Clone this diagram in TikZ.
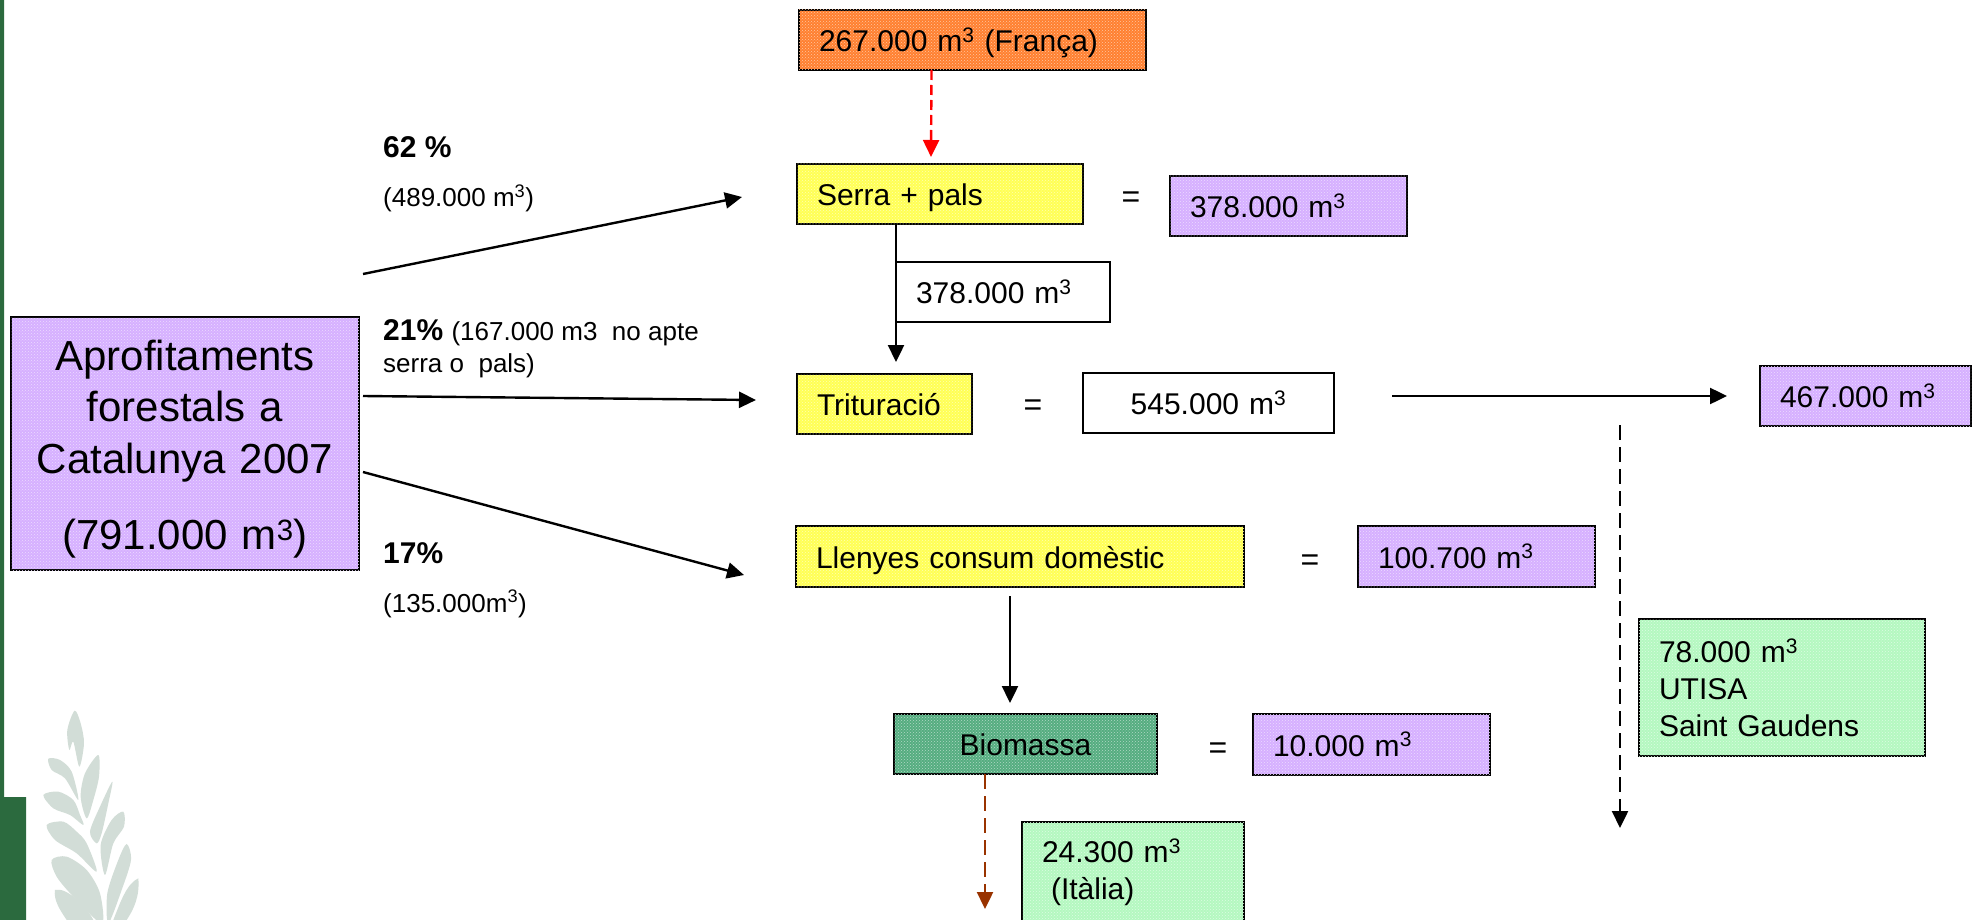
\documentclass[tikz,border=0pt]{standalone}
\usepackage{fontspec}
\setmainfont{Liberation Sans}
\usetikzlibrary{arrows.meta,patterns}
\definecolor{barGreen}{HTML}{2B6A3E}
\definecolor{leafGrey}{HTML}{D2DDD7}
\definecolor{boxPurple}{HTML}{D6B0FF}
\definecolor{boxYellow}{HTML}{FFFF55}
\definecolor{boxOrange}{HTML}{FF8030}
\definecolor{boxGreen}{HTML}{B4F8C0}
\definecolor{boxDark}{HTML}{55AD80}
\definecolor{arrowBrown}{HTML}{993300}
\newcommand{\mc}{m\textsuperscript{3}}
\tikzset{
	tbox/.style={draw=black,line width=2.4pt,outer sep=0pt,inner xsep=20pt,inner ysep=0pt,anchor=north west,align=left,font=\fontsize{30}{37}\selectfont},
	oneline/.style={text height=28pt,text depth=5pt},
	dotted fill/.style={fill=#1,postaction={pattern=crosshatch dots,pattern color=white!55!#1}},
	label/.style={anchor=base west,inner sep=0pt,font=\fontsize{26}{32}\selectfont},
	pct/.style={anchor=base west,inner sep=0pt,font=\fontsize{30}{36}\selectfont\bfseries},
	equal/.style={inner sep=0pt,font=\fontsize{32}{36}\selectfont},
	flow/.style={line width=2.4pt,-{Triangle[length=17pt,width=16pt]}},
	leaf/.style={fill=leafGrey,draw=none}
}
\begin{document}
\begin{tikzpicture}[x=1pt,y=-1pt]
	\clip (0,0) rectangle (1975,920);
	\fill[white] (0,0) rectangle (1975,920);
	% side bar
	\fill[barGreen] (0,0) -- (4,0) -- (4,797) -- (26,797) -- (26,920) -- (0,920) -- cycle;
	% leaf
	\begin{scope}[shift={(30,700)},x=0.3333pt,y=-0.3333pt]
		\fill[leaf] plot[smooth cycle] coordinates {(134,32) (112,90) (118,150) (130,125) (148,200) (162,130) (152,70)};
		\fill[leaf] plot[smooth cycle] coordinates {(55,176) (90,180) (125,215) (145,300) (105,235) (65,210)};
		\fill[leaf] plot[smooth cycle] coordinates {(205,165) (207,230) (190,300) (170,355) (152,290) (165,220)};
		\fill[leaf] plot[smooth cycle] coordinates {(40,285) (85,275) (130,300) (150,345) (160,375) (120,345) (70,325)};
		\fill[leaf] plot[smooth cycle] coordinates {(247,245) (235,310) (215,400) (200,430) (180,395) (210,320)};
		\fill[leaf] plot[smooth cycle] coordinates {(50,375) (100,365) (140,395) (170,430) (200,515) (140,460) (75,420)};
		\fill[leaf] plot[smooth cycle] coordinates {(280,335) (282,380) (250,430) (225,525) (212,435) (245,360)};
		\fill[leaf] plot[smooth cycle] coordinates {(65,480) (110,470) (170,510) (210,580) (215,670) (130,590) (80,530)};
		\fill[leaf] plot[smooth cycle] coordinates {(290,432) (303,480) (275,570) (235,670) (232,580) (265,480)};
		\fill[leaf] (75,570) .. controls (110,560) and (170,620) .. (190,660) -- (110,660) .. controls (90,630) and (70,600) .. (75,570) -- cycle;
		\fill[leaf] (325,535) .. controls (330,590) and (310,630) .. (290,660) -- (250,660) .. controls (270,610) and (290,550) .. (325,535) -- cycle;
	\end{scope}
	% boxes
	\node[tbox,dotted fill=boxPurple,text width=348pt,inner xsep=0pt,minimum height=253pt,align=center,font=\fontsize{42}{51.5}\selectfont] (aprof) at (11,317) {\rule{0pt}{42pt}Aprofitaments\\forestals a\\Catalunya 2007\\[25pt](791.000 \mc)};
	\node[tbox,oneline,dotted fill=boxOrange,text width=307pt,minimum height=60pt] (franca) at (799,10) {267.000 \mc{} (França)};
	\node[tbox,oneline,dotted fill=boxYellow,text width=246pt,minimum height=60pt] (serra) at (797,164) {Serra + pals};
	\node[tbox,oneline,dotted fill=boxPurple,text width=197pt,minimum height=60pt] (serraval) at (1170,176) {378.000 \mc};
	\node[tbox,oneline,fill=white,text width=174pt,minimum height=60pt] (pasval) at (896,262) {378.000 \mc};
	\node[tbox,oneline,dotted fill=boxYellow,text width=135pt,minimum height=60pt] (tritur) at (797,374) {Trituració};
	\node[tbox,oneline,fill=white,text width=251pt,inner xsep=0pt,align=center,minimum height=60pt] (triturval) at (1083,373) {545.000 \mc};
	\node[tbox,oneline,dotted fill=boxPurple,text width=171pt,minimum height=60pt] (sortida) at (1760,366) {467.000 \mc};
	\node[tbox,oneline,dotted fill=boxYellow,text width=408pt,minimum height=61pt] (llenyes) at (796,526) {Llenyes consum domèstic};
	\node[tbox,oneline,dotted fill=boxPurple,text width=197pt,minimum height=61pt] (llenyesval) at (1358,526) {100.700 \mc};
	\node[tbox,oneline,dotted fill=boxDark,text width=263pt,inner xsep=0pt,align=center,minimum height=60pt] (biomassa) at (894,714) {Biomassa};
	\node[tbox,oneline,dotted fill=boxPurple,text width=197pt,minimum height=61pt] (biomassaval) at (1253,714) {10.000 \mc};
	\node[tbox,dotted fill=boxGreen,text width=246pt,minimum height=137pt] (utisa) at (1639,619) {78.000 \mc\\UTISA\\Saint Gaudens};
	\node[tbox,dotted fill=boxGreen,text width=182pt,minimum height=101pt] (italia) at (1022,822) {24.300 \mc\\\hspace*{9pt}(Itàlia)};
	% signs
	\node[equal] (eqserra) at (1131,200) {=};
	\node[equal] (eqtritur) at (1033,408) {=};
	\node[equal] (eqllenyes) at (1310,563) {=};
	\node[equal] (eqbiomassa) at (1218,751) {=};
	% labels
	\node[pct] (pctserra) at (383,158) {62 \%};
	\node[label] (volserra) at (383,207) {(489.000 \mc)};
	\node[label,align=left,anchor=north west] (pcttritur) at (383,319) {\fontsize{30}{32}\selectfont\textbf{21\%} \fontsize{26}{32}\selectfont(167.000 m3~ no apte\\serra o~ pals)};
	\node[pct] (pctllenyes) at (383,563) {17\%};
	\node[label] (volllenyes) at (383,612) {(135.000m\textsuperscript{3})};
	% free ends
	\coordinate (aserra) at (363,274);
	\coordinate (bserra) at (742,197);
	\coordinate (atritur) at (363,396);
	\coordinate (btritur) at (756,400);
	\coordinate (allenyes) at (363,472);
	\coordinate (bllenyes) at (744,575);
	\coordinate (asortida) at (1392,396);
	\coordinate (bsortida) at (1727,396);
	\coordinate (autisa) at (1620,425);
	\coordinate (butisa) at (1620,828);
	\coordinate (abiomassa) at (1010,596);
	\coordinate (bbiomassa) at (1010,703);
	\coordinate (bitalia) at (985,909);
	% connectors
	\draw[flow] (aserra) -- (bserra);
	\draw[flow] (atritur) -- (btritur);
	\draw[flow] (allenyes) -- (bllenyes);
	\draw[flow] (asortida) -- (bsortida);
	\draw[flow] (pasval.west |- serra.south) -- ([yshift=12pt]pasval.west |- tritur.north);
	\draw[flow] (abiomassa) -- (bbiomassa);
	\draw[flow,dash pattern=on 15pt off 7pt] (autisa) -- (butisa);
	\draw[flow,red,dash pattern=on 10pt off 5pt] ([xshift=-41pt]franca.south) -- ([xshift=-9pt,yshift=7pt]serra.north);
	\draw[flow,arrowBrown,dash pattern=on 15pt off 7pt] (bitalia |- biomassa.south) -- (bitalia);
\end{tikzpicture}
\end{document}
